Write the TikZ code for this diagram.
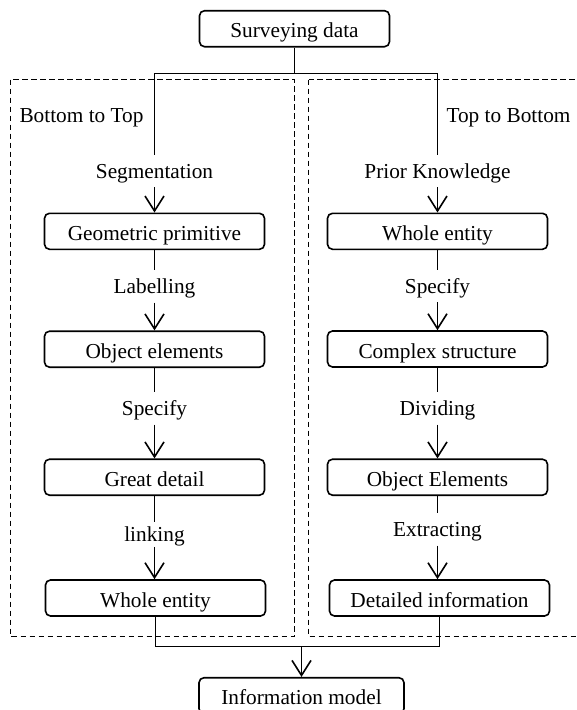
\documentclass[tikz,border=0pt]{standalone}
\usepackage{fontspec}
\setmainfont{Liberation Serif}
\usetikzlibrary{arrows.meta}
\begin{document}
\begin{tikzpicture}[x=1pt,y=-1pt,
  every node/.style={font=\fontsize{21.3}{25}\selectfont},
  stepbox/.style={draw, line width=1.6pt, rounded corners=5pt, minimum width=220pt, minimum height=36pt, inner sep=0pt, text height=18pt, text depth=0pt},
  lbl/.style={inner sep=0pt, minimum height=32pt, text height=14pt, text depth=0pt},
  conn/.style={line width=1.6pt},
  arr/.style={line width=1.6pt, -{Straight Barb[length=15pt,width=19pt,line width=1.6pt]}},
  dbox/.style={draw, line width=1.5pt, dash pattern=on 5.5pt off 3.5pt}
]
\useasboundingbox (0,0) rectangle (577,710);
\clip (0,0) rectangle (577,710);
\fill[white] (0,0) rectangle (577,710);

% dashed frames
\draw[dbox] (10.5,79.5) rectangle (294.5,636.5);
\draw[dbox] (308.5,79.5) rectangle (600,636.5);

% top
\node[stepbox, minimum width=190pt] (sd) at (294.5,28.7) {Surveying data};
\coordinate (j) at (294.5,73.5);

\node[anchor=base west] (btt) at (16,122.5) {Bottom to Top};
\node[anchor=base west] (ttb) at (443,122.5) {Top to Bottom};

% left column
\node[lbl] (lseg) at (154.5,171) {Segmentation};
\node[stepbox] (lgeo) at (154.5,231.3) {Geometric primitive};
\node[lbl] (llab) at (154.5,286.3) {Labelling};
\node[stepbox] (lobj) at (154.5,349.2) {Object elements};
\node[lbl] (lspec) at (154.5,408.3) {Specify};
\node[stepbox] (lgreat) at (154.5,477.2) {Great detail};
\node[lbl, minimum height=25pt] (llink) at (154.5,534.2) {linking};
\node[stepbox] (lwhole) at (155.5,598) {Whole entity};

% right column
\node[lbl] (rprior) at (437.5,171) {Prior Knowledge};
\node[stepbox] (rwhole) at (437.5,231.3) {Whole entity};
\node[lbl] (rspec) at (437.5,286) {Specify};
\node[stepbox] (rcomp) at (437.5,349) {Complex structure};
\node[lbl] (rdiv) at (437.5,408.3) {Dividing};
\node[stepbox] (robj) at (437.5,477.2) {Object Elements};
\node[lbl] (rext) at (437.5,529.5) {Extracting};
\node[stepbox] (rdet) at (439.5,598) {Detailed information};

% bottom
\node[stepbox, minimum width=205pt] (info) at (301.5,695.7) {Information model};
\coordinate (k) at (301.5,646.5);

% connectors top
\draw[conn] (sd.south) -- (j);
\draw[conn] (lseg.north) -- (lseg.north |- j) -- (rprior.north |- j) -- (rprior.north);

% left chain
\draw[arr] (lseg.south) -- (lgeo.north);
\draw[conn] (lgeo.south) -- (llab.north);
\draw[arr] (llab.south) -- (lobj.north);
\draw[conn] (lobj.south) -- (lspec.north);
\draw[arr] (lspec.south) -- (lgreat.north);
\draw[conn] (lgreat.south) -- (llink.north);
\draw[arr] (llink.south) -- (lwhole.north -| llink.south);

% right chain
\draw[arr] (rprior.south) -- (rwhole.north);
\draw[conn] (rwhole.south) -- (rspec.north);
\draw[arr] (rspec.south) -- (rcomp.north);
\draw[conn] (rcomp.south) -- (rdiv.north);
\draw[arr] (rdiv.south) -- (robj.north);
\draw[conn] (robj.south) -- (rext.north);
\draw[arr] (rext.south) -- (rdet.north -| rext.south);

% bottom merge
\draw[conn] (lwhole.south) -- (lwhole.south |- k) -- (rdet.south |- k) -- (rdet.south);
\draw[arr] (k) -- (info.north);
\end{tikzpicture}
\end{document}
